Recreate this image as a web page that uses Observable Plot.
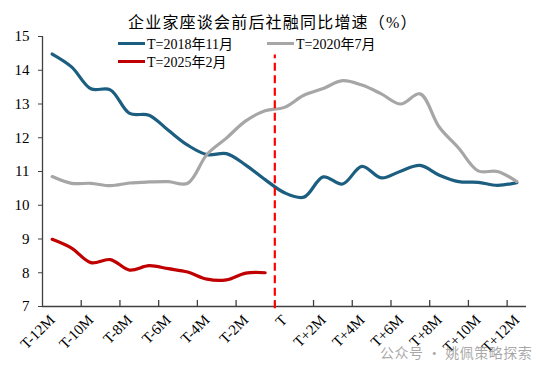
<!DOCTYPE html>
<html>
<head>
<meta charset="utf-8">
<script src="https://cdn.jsdelivr.net/npm/d3@7"></script>
<script src="https://cdn.jsdelivr.net/npm/@observablehq/plot@0.6"></script>
<style>
  html, body { margin: 0; padding: 0; background: #fff; }
  #wrap { position: relative; width: 550px; height: 372px; font-family: "Liberation Serif", "Noto Sans CJK SC", serif; }
  #title { position: absolute; left: 128px; top: 9px; font-size: 16px; letter-spacing: 1.2px; color: #000; white-space: nowrap; }
  .leg { position: absolute; font-size: 14px; color: #000; white-space: nowrap; display: flex; align-items: center; }
  .sw { display: inline-block; width: 27px; height: 0; border-top: 3px solid; margin-right: 2px; }
  #wm { position: absolute; left: 380px; top: 342px; font-family: "Noto Sans CJK SC", sans-serif; font-size: 14px; letter-spacing: 0.5px; color: rgba(140,140,140,0.75); white-space: nowrap; }
</style>
</head>
<body>
<div id="wrap"></div>
<script>
const months = ["T-12M","T-11M","T-10M","T-9M","T-8M","T-7M","T-6M","T-5M","T-4M","T-3M","T-2M","T-1M",
  "T","T+1M","T+2M","T+3M","T+4M","T+5M","T+6M","T+7M","T+8M","T+9M","T+10M","T+11M","T+12M"];
const seriesNames = ["T=2018年11月", "T=2020年7月", "T=2025年2月"];
const seriesColors = ["#1b5e80", "#a6a6a6", "#c00000"];
const blue2018 = [14.48, 14.1, 13.45, 13.42, 12.72, 12.67, 12.22, 11.78, 11.5, 11.53, 11.19, 10.76,
  10.37, 10.24, 10.84, 10.63, 11.15, 10.81, 11.01, 11.18, 10.89, 10.70, 10.68, 10.59, 10.67];
const gray2020 = [10.85, 10.65, 10.65, 10.58, 10.66, 10.69, 10.70, 10.65, 11.51, 11.99, 12.5, 12.8,
  12.9, 13.26, 13.46, 13.69, 13.56, 13.3, 13.0, 13.3, 12.31, 11.69, 11.02, 11.0, 10.70];
const red2025 = [8.99, 8.73, 8.30, 8.39, 8.08, 8.21, 8.12, 8.02, 7.81, 7.79, 7.99, 8.0];
const yTicks = [7, 8, 9, 10, 11, 12, 13, 14, 15];
const eventIndex = 12;
const titleText = "企业家座谈会前后社融同比增速（%）";
const watermark = "公众号 · 姚佩策略探索";

const allSeries = [blue2018, gray2020, red2025];
const data = [];
allSeries.forEach((vals, s) => vals.forEach((v, i) => data.push({i, v, s: seriesNames[s]})));

const labelIdx = months.map((_, i) => i).filter(i => i % 2 === 0);
const bounds = months.map((_, i) => i + 0.5).filter(b => (b + 0.5) % 2 === 0 && b < months.length - 1);

const chart = Plot.plot({
  width: 550, height: 372,
  marginLeft: 42, marginRight: 24, marginTop: 36, marginBottom: 66,
  x: {domain: [-0.5, months.length - 0.5], label: null},
  y: {domain: [7, 15], label: null},
  style: {fontFamily: '"Liberation Serif", "Noto Sans CJK SC", serif', fontSize: "15px", color: "#000", background: "transparent"},
  marks: [
    Plot.axisY({ticks: yTicks, tickSize: 4, tickPadding: 9, fontSize: 15, stroke: "#404040"}),
    Plot.axisX({ticks: labelIdx, tickSize: 0, tickPadding: 11, tickRotate: -45, fontSize: 15, tickFormat: i => months[i]}),
    Plot.ruleX(bounds, {y1: 7, y2: 7.18, stroke: "#404040", strokeWidth: 1.3}),
    Plot.ruleX([-0.5], {stroke: "#404040", strokeWidth: 1.3}),
    Plot.ruleY([7], {stroke: "#404040", strokeWidth: 1.3}),
    ...seriesNames.map((name, s) => Plot.line(data.filter(d => d.s === name), {
      x: "i", y: "v", stroke: seriesColors[s], strokeWidth: 3.2, curve: "catmull-rom"
    })),
    Plot.ruleX([eventIndex - 0.5], {y1: 6.93, y2: 14.45, stroke: "#ff0000", strokeWidth: 2.2, strokeDasharray: "8,4.5"})
  ]
});

const wrap = document.getElementById("wrap");
wrap.appendChild(chart);
chart.style.position = "absolute"; chart.style.left = "0"; chart.style.top = "0";

const t = document.createElement("div"); t.id = "title"; t.textContent = titleText; wrap.appendChild(t);
const legPos = [[118, 33], [267, 33], [118, 51]];
seriesNames.forEach((name, s) => {
  const d = document.createElement("div"); d.className = "leg";
  d.style.left = legPos[s][0] + "px"; d.style.top = legPos[s][1] + "px";
  const sw = document.createElement("span"); sw.className = "sw"; sw.style.borderTopColor = seriesColors[s];
  const tx = document.createElement("span"); tx.textContent = name;
  d.appendChild(sw); d.appendChild(tx); wrap.appendChild(d);
});
const wm = document.createElement("div"); wm.id = "wm"; wm.textContent = watermark; wrap.appendChild(wm);
</script>
</body>
</html>
